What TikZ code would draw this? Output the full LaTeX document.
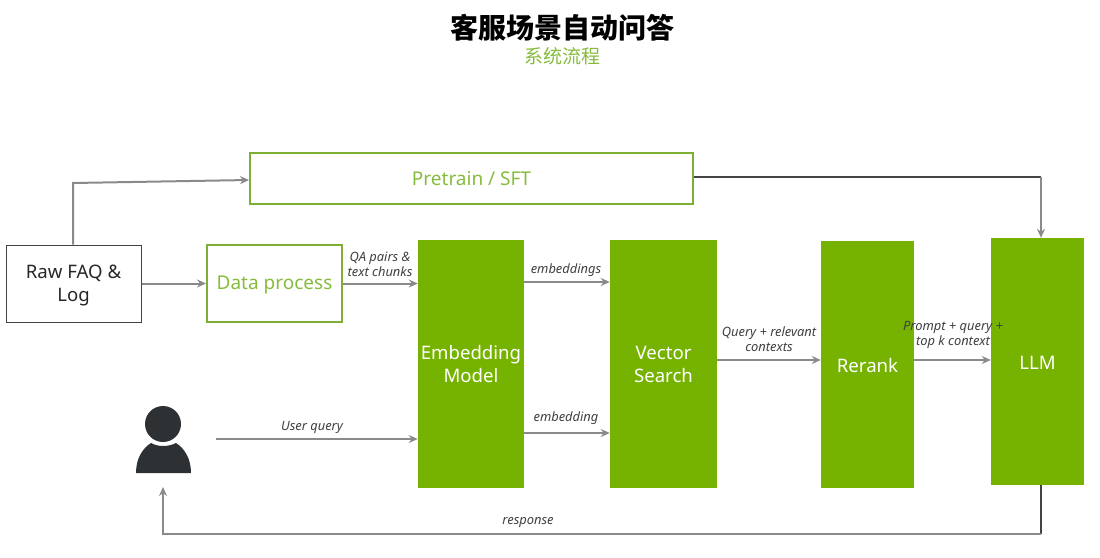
\documentclass[tikz,border=0pt]{standalone}
\usepackage{fontspec}
\setmainfont{Noto Sans}
\newfontfamily\cjk{Noto Sans CJK SC}
\usetikzlibrary{arrows.meta}
\definecolor{nvgreen}{HTML}{76B300}
\definecolor{nvline}{HTML}{7FAE35}
\definecolor{nvtext}{HTML}{86BC3C}
\definecolor{flowgray}{HTML}{8A8A8A}
\definecolor{darkline}{HTML}{444444}
\definecolor{persongray}{HTML}{2E3133}
\begin{document}
\begin{tikzpicture}
[x=1pt, y=-1pt, font=\fontsize{18.6}{23}\selectfont]
\tikzstyle{lowered}=[execute at begin node={\rule{0pt}{16.5pt}}]
\tikzstyle{greenbox}=[fill=nvgreen, text=white, inner sep=0pt, align=center, lowered]
\tikzstyle{outlinebox}=[draw=nvline, line width=1.9pt, text=nvtext, inner sep=0pt, font=\fontsize{19}{23}\selectfont]
\tikzstyle{rawbox}=[draw=darkline, line width=1pt, inner sep=0pt, align=center, text=black!85]
\tikzstyle{flow}=[draw=flowgray, line width=2pt, -{Stealth[length=9pt,width=8pt]}]
\tikzstyle{darkplain}=[draw=darkline, line width=1.5pt]
\tikzstyle{edgelabel}=[font=\fontsize{12.9}{15}\selectfont\itshape, align=center, text=black!75, inner sep=0pt]
\useasboundingbox (0,0) rectangle (1100,557);

\node	(title)		at (562,28)	[font=\cjk\bfseries\fontsize{28}{32}\selectfont, text=black]	{客服场景自动问答};
\node	(subtitle)	at (562,56)	[font=\cjk\fontsize{19}{23}\selectfont, text=nvtext]	{系统流程};

\node[rawbox]	(raw)	at (73.5,283.5)	[minimum width=135pt, minimum height=77pt]	{\rule{0pt}{18pt}Raw FAQ \&\\Log};
\node[outlinebox, lowered]	(data)	at (274.5,283.5)	[minimum width=135pt, minimum height=77pt]	{Data process};
\node[outlinebox]	(pretrain)	at (471.5,178.5)	[minimum width=443pt, minimum height=51pt]	{Pretrain / SFT};
\node[greenbox]	(embed)	at (471,364)	[minimum width=106pt, minimum height=248pt]	{Embedding\\Model};
\node[greenbox]	(vector)	at (663.5,364)	[minimum width=107pt, minimum height=248pt]	{Vector\\Search};
\node[greenbox]	(rerank)	at (867.5,364.5)	[minimum width=93pt, minimum height=247pt]	{Rerank};
\node[greenbox]	(llm)	at (1037.5,361.5)	[minimum width=93pt, minimum height=247pt]	{LLM};

\coordinate	(person)	at (163,424);
\coordinate	(queryout)	at (216,439);
\coordinate	(responsein)	at (163,487);
\coordinate	(pretrainturn)	at (1041,177);
\coordinate	(llmbottom)	at (1041,534);
\coordinate	(rawturn)	at (73,183);

\fill[persongray]	(person) circle (18);
\fill[persongray]	(136,473) .. controls (136,458) and (143,448) .. (151,443) .. controls (158,447) and (168,447) .. (176,443) .. controls (184,448) and (191,458) .. (191,473) -- cycle;

\draw[flow]	(raw.north -| rawturn) -- (rawturn) -- (pretrain.west |- 0,180);
\draw[flow]	(raw.east) -- (data.west);
\draw[flow]	(data.east) -- (embed.west |- data.east);
\draw[flow]	(embed.east |- 0,282) -- (vector.west |- 0,282);
\draw[flow]	(embed.east |- 0,433) -- (vector.west |- 0,433);
\draw[flow]	(queryout) -- (embed.west |- queryout);
\draw[flow]	(vector.east |- 0,360) -- (rerank.west |- 0,360);
\draw[flow]	(rerank.east |- 0,360) -- (llm.west |- 0,360);
\draw[darkplain]	(pretrain.east |- pretrainturn) -- (pretrainturn);
\draw[flow]	(pretrainturn) -- (pretrainturn |- llm.north);
\draw[darkplain]	(llmbottom |- llm.south) -- (llmbottom);
\draw[flow]	(llmbottom) -- (llmbottom -| responsein) -- (responsein);

\node[edgelabel]	(qalabel)	at (380,264)	{QA pairs \&\\text chunks};
\node[edgelabel]	(emblabelA)	at (566,270)	{embeddings};
\node[edgelabel]	(emblabelB)	at (566,418)	{embedding};
\node[edgelabel]	(querylabel)	at (312,427)	{User query};
\node[edgelabel]	(relevantlabel)	at (769,339)	{Query + relevant\\contexts};
\node[edgelabel]	(promptlabel)	at (953,335)	{Prompt + query +\\top k context};
\node[edgelabel]	(responselabel)	at (528,522)	{response};
\end{tikzpicture}
\end{document}
